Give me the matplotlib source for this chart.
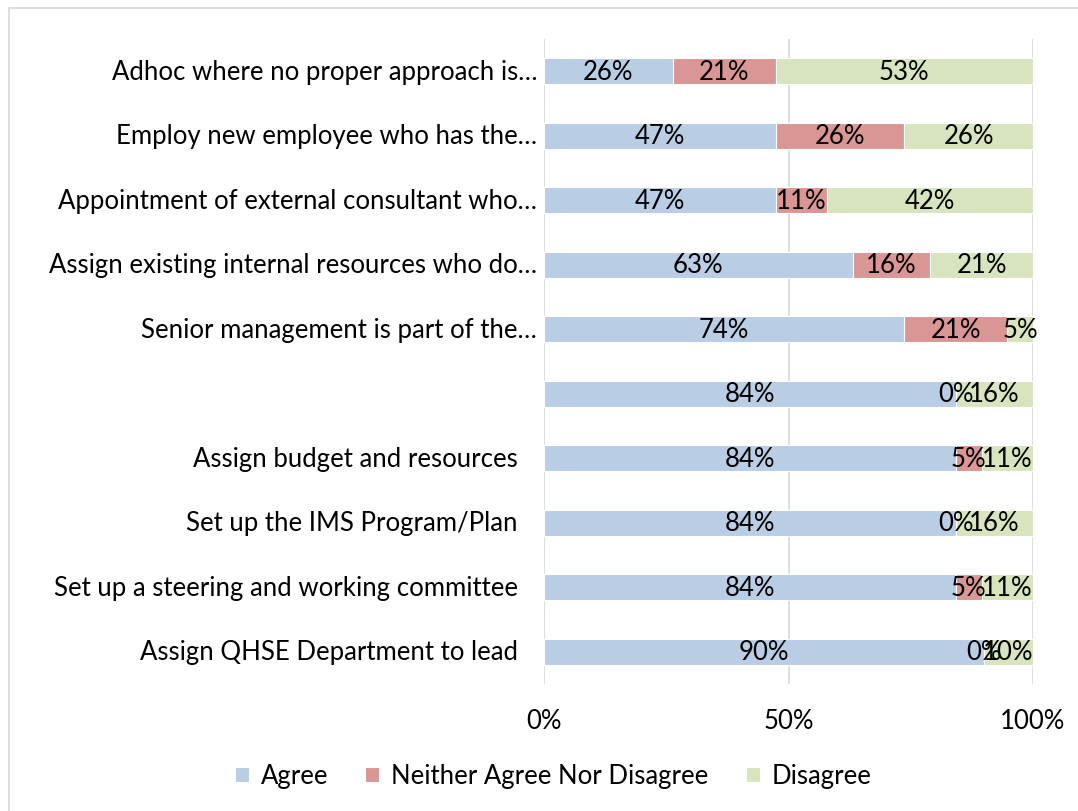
import numpy as np
import matplotlib.pyplot as plt
from matplotlib.patches import Rectangle
from matplotlib.transforms import blended_transform_factory, ScaledTranslation

plt.rcParams['font.family'] = ['Lato', 'DejaVu Sans']

# survey statements, bottom to top
categories = [
    "Assign QHSE Department to lead",
    "Set up a steering and working committee",
    "Set up the IMS Program/Plan",
    "Assign budget and resources",
    "",
    "Senior management is part of the…",
    "Assign existing internal resources who do…",
    "Appointment of external consultant who…",
    "Employ new employee who has the…",
    "Adhoc where no proper approach is…",
]

# shares of respondents (%)
agree = [90.0, 84.21, 84.21, 84.21, 84.21, 73.68, 63.16, 47.37, 47.37, 26.32]
neither = [0.0, 5.26, 0.0, 5.26, 0.0, 21.05, 15.79, 10.53, 26.32, 21.05]
disagree = [10.0, 10.53, 15.79, 10.53, 15.79, 5.26, 21.05, 42.11, 26.32, 52.63]

series = [("Agree", agree, "#B9CDE5"),
          ("Neither Agree Nor Disagree", neither, "#D99694"),
          ("Disagree", disagree, "#D7E4BD")]

FS = 18.5

fig = plt.figure(figsize=(10.78, 8.12), dpi=100)
ax = fig.add_axes([544 / 1078, 1 - 685 / 812, 489 / 1078, 645 / 812])

y = np.arange(len(categories))
left = np.zeros(len(categories))
for name, vals, col in series:
    vals = np.array(vals)
    ax.barh(y, vals, left=left, height=0.4, color=col, edgecolor="white",
            linewidth=0.8, label=name, zorder=3)
    for yi, l, v in zip(y, left, vals):
        ax.text(l + v / 2, yi, f"{v:.0f}%", ha="center", va="center",
                fontsize=FS, color="black", zorder=4)
    left += vals

ax.set_xlim(0, 100)
ax.set_ylim(-0.5, len(categories) - 0.5)
ax.set_xticks([0, 50, 100])
ax.set_xticklabels(["0%", "50%", "100%"], fontsize=FS)
ax.tick_params(axis="x", length=0, pad=17)
ax.set_yticks([])
ax.grid(axis="x", color="#D9D9D9", linewidth=1.2, zorder=0)
for s in ax.spines.values():
    s.set_visible(False)

# category labels; truncated ones sit closer to the axis
trans = blended_transform_factory(ax.transAxes, ax.transData)
for yi, lab in zip(y, categories):
    off = -0.07 if lab.endswith("…") else -0.26
    t = trans + ScaledTranslation(off, 0, fig.dpi_scale_trans)
    ax.text(0, yi, lab, transform=t, ha="right", va="center", fontsize=FS)

fig.legend(loc="center", bbox_to_anchor=(0.513, 1 - 777 / 812), ncol=3,
           frameon=False, fontsize=FS, handlelength=0.55, handleheight=0.55,
           columnspacing=1.45, handletextpad=0.45)

# chart border
fig.patches.append(Rectangle((8.5 / 1078, -0.05), 1.2, 1 - 8.5 / 812 + 0.05,
                             transform=fig.transFigure, fill=False,
                             edgecolor="#D9D9D9", linewidth=1.2))

fig.savefig("out.png", dpi=100)
